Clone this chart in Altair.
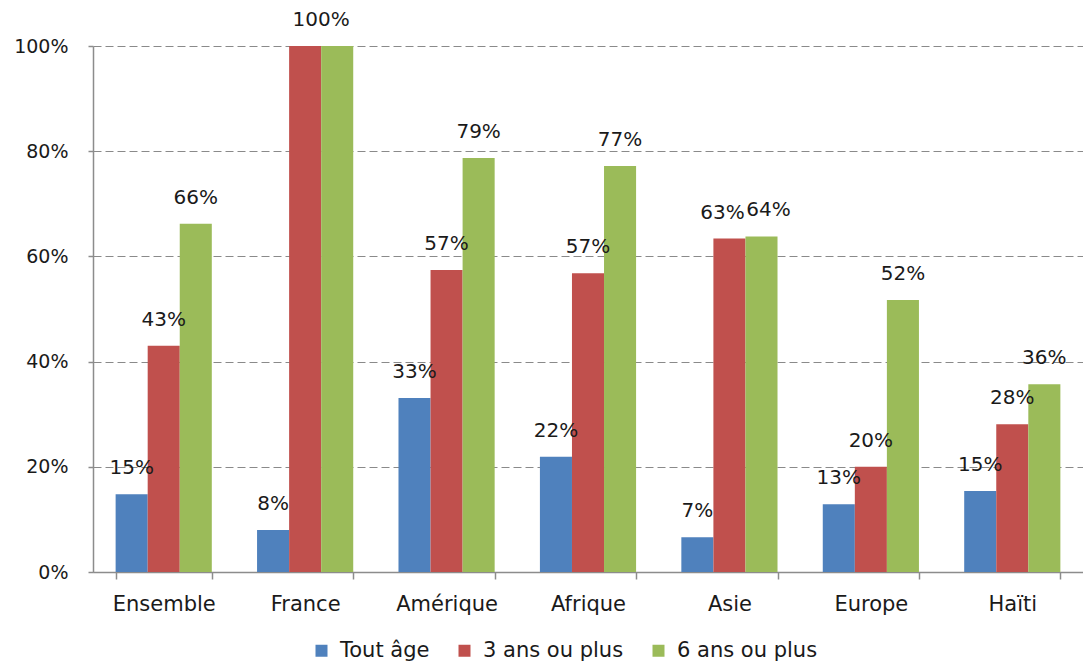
import altair as alt
import pandas as pd

categories = ["Ensemble", "France", "Amérique", "Afrique", "Asie", "Europe", "Haïti"]
series = ["Tout âge", "3 ans ou plus", "6 ans ou plus"]
colors = ["#4F81BD", "#C0504D", "#9BBB59"]

tout_age = [0.148, 0.08, 0.331, 0.219, 0.066, 0.129, 0.154]
trois_ans = [0.43, 1.0, 0.574, 0.568, 0.634, 0.20, 0.281]
six_ans = [0.662, 1.0, 0.787, 0.772, 0.638, 0.517, 0.357]

y_ticks = [0, 0.2, 0.4, 0.6, 0.8, 1.0]

# small horizontal nudges of a few value labels (as in the original);
# None = label shared with its neighbour (France shows one "100%")
label_nudge = {
    ("France", "3 ans ou plus"): 16,
    ("France", "6 ans ou plus"): None,
    ("Asie", "3 ans ou plus"): -7,
    ("Asie", "6 ans ou plus"): 7,
}

rows = []
for s, vals in zip(series, [tout_age, trois_ans, six_ans]):
    for c, v in zip(categories, vals):
        n = label_nudge.get((c, s), 0)
        rows.append({"cat": c, "serie": s, "value": v,
                     "label": f"{int(v * 100 + 0.5):d}%",
                     "nudge": -999 if n is None else n})
df = pd.DataFrame(rows)

FONT = "DejaVu Sans"
TXT = "#1a1a1a"

x_enc = alt.X("cat:N", sort=categories, title=None,
              scale=alt.Scale(paddingInner=0.32, paddingOuter=0.16),
              axis=alt.Axis(labelAngle=0, labelFontSize=21, labelFont=FONT,
                            labelColor=TXT, labelPadding=14, tickSize=7,
                            tickBand="extent", tickColor="#8c8c8c",
                            domainColor="#8c8c8c", domainWidth=1.5,
                            tickWidth=1.5, grid=False))
xoff = alt.XOffset("serie:N", sort=series, scale=alt.Scale(paddingInner=0))
y_enc = alt.Y("value:Q", title=None,
              scale=alt.Scale(domain=[0, 1], nice=False),
              axis=alt.Axis(values=y_ticks, format=".0%", labelFontSize=19,
                            labelFont=FONT, labelColor=TXT, labelPadding=20,
                            tickSize=5, tickColor="#8c8c8c",
                            domainColor="#8c8c8c", domainWidth=1.5,
                            tickWidth=1.5, grid=True, gridColor="#8a8a8a",
                            gridDash=[8, 4], gridWidth=1))

base = alt.Chart(df)

bars = base.mark_bar().encode(
    x=x_enc, xOffset=xoff, y=y_enc,
    color=alt.Color("serie:N", sort=series,
                    scale=alt.Scale(domain=series, range=colors),
                    legend=alt.Legend(title=None, orient="none", direction="horizontal",
                                      legendX=218, legendY=594,
                                      labelFontSize=21, labelFont=FONT,
                                      labelColor=TXT, symbolType="square",
                                      symbolSize=144, symbolStrokeWidth=0,
                                      labelOffset=8, columnPadding=24)),
)

layers = [bars]
nudges = sorted({v for v in label_nudge.values() if v is not None} | {0})
for n in nudges:
    t = base.transform_filter(alt.datum.nudge == n).mark_text(
        fontSize=20, font=FONT, color=TXT, baseline="middle", dy=-26, dx=n
    ).encode(
        x=alt.X("cat:N", sort=categories), xOffset=xoff,
        y=alt.Y("value:Q"), text="label:N",
    )
    layers.append(t)

chart = alt.layer(*layers).properties(
    width=990, height=526,
    autosize=alt.AutoSizeParams(type="none"),
    padding={"left": 85, "top": 38, "right": 0, "bottom": 92},
).configure_view(stroke=None)

chart.save("out.html", embed_options={"renderer": "svg", "actions": False})
